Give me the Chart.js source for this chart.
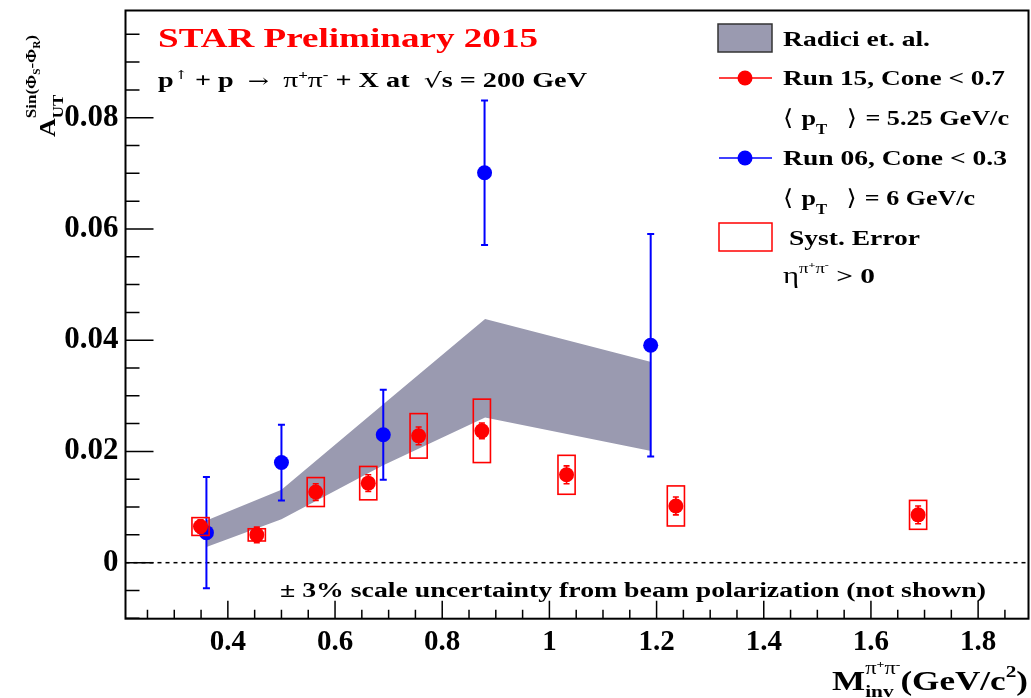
<!DOCTYPE html>
<html><head><meta charset="utf-8">
<script src="https://cdn.jsdelivr.net/npm/chart.js@4.4.0/dist/chart.umd.min.js"></script>
<style>html,body{margin:0;padding:0;background:#fff;overflow:hidden}canvas{display:block}</style>
</head><body>
<canvas id="c" width="1031" height="698"></canvas>
<script>
// ---- data ----
const run15Mass = [0.349, 0.454, 0.564, 0.662, 0.756, 0.874, 1.032, 1.236, 1.688];
const run15Asym = [0.0065, 0.0050, 0.0127, 0.0143, 0.0228, 0.0237, 0.0158, 0.0102, 0.0086];
const run15Stat = [0.0012, 0.0014, 0.0015, 0.0015, 0.0016, 0.0014, 0.0016, 0.0016, 0.0016];
const run15Syst = [0.0016, 0.0011, 0.0026, 0.0030, 0.0040, 0.0057, 0.0035, 0.0036, 0.0026];
const run15SystHalfWidth = 0.016;
const run06Mass = [0.360, 0.500, 0.690, 0.879, 1.189];
const run06Asym = [0.0054, 0.0180, 0.0230, 0.0701, 0.0391];
const run06Err  = [0.0100, 0.0068, 0.0081, 0.0130, 0.0200];
const theoryMass  = [0.36, 0.50, 0.69, 0.88, 1.19];
const theoryUpper = [0.0076, 0.0131, 0.0285, 0.0438, 0.0361];
const theoryLower = [0.0028, 0.0078, 0.0175, 0.0261, 0.0201];
const X_MIN = 0.209, X_MAX = 1.894, X_STEP = 0.2, X_MINOR = 0.05;
const Y_MIN = -0.01007, Y_MAX = 0.09927, Y_STEP = 0.02, Y_MINOR = 0.005;

const RED = '#ff0000', BLUE = '#0000ff', BAND = '#9a9ab0';
const SERIF = '"Liberation Serif", "Times New Roman", serif';
const SYM = '"Liberation Serif", "DejaVu Serif", serif';
const BRK = '"DejaVu Serif", "DejaVu Sans", serif';

function fmt(v){ const r = Math.round(v*1000)/1000; return r === 0 ? '0' : String(r); }
function fontOf(p){ return (p.w || 'bold') + ' ' + p.size + 'px ' + (p.fam || SERIF); }

// rich text: mark:true records a start, stack:true restarts at the mark, after:true starts after everything so far
function rich(ctx, x, y, parts, o){
  let cx = 0, maxEnd = 0, markPos = 0; const pos = [];
  for (const p of parts){
    ctx.font = fontOf(p); const m = ctx.measureText(p.t).width;
    const start = p.stack ? markPos : (p.after ? maxEnd : cx);
    if (p.mark) markPos = start;
    pos.push(start);
    cx = start + m + (p.gap || 0); maxEnd = Math.max(maxEnd, cx);
  }
  const sx = o.width ? o.width / maxEnd : (o.sx || 1);
  ctx.save(); ctx.translate(x, y); if (o.rot) ctx.rotate(o.rot); ctx.scale(sx, 1);
  ctx.textAlign = 'left'; ctx.textBaseline = 'alphabetic';
  parts.forEach((p, i) => { ctx.font = fontOf(p); ctx.fillStyle = p.color || o.color || '#000'; ctx.fillText(p.t, pos[i], p.dy || 0); });
  ctx.restore();
}

const decor = {
  id: 'decor',
  beforeDatasetsDraw(chart){
    const {ctx, chartArea: a, scales: {y}} = chart;
    ctx.save(); ctx.beginPath(); ctx.rect(a.left, a.top, a.right - a.left, a.bottom - a.top); ctx.clip();
    const y0 = y.getPixelForValue(0);
    ctx.strokeStyle = '#000'; ctx.lineWidth = 1.5; ctx.setLineDash([4, 4]);
    ctx.beginPath(); ctx.moveTo(a.left, y0); ctx.lineTo(a.right, y0); ctx.stroke();
    ctx.restore();
  },
  beforeDatasetDraw(chart, args){
    const {ctx, scales: {x, y}} = chart;
    if (args.index === 1){ // Run 06 error bars
      ctx.save(); ctx.strokeStyle = BLUE; ctx.lineWidth = 2;
      run06Mass.forEach((m, i) => {
        const px = x.getPixelForValue(m), top = y.getPixelForValue(run06Asym[i] + run06Err[i]), bot = y.getPixelForValue(run06Asym[i] - run06Err[i]);
        ctx.beginPath(); ctx.moveTo(px, top); ctx.lineTo(px, bot);
        ctx.moveTo(px - 3.5, top); ctx.lineTo(px + 3.5, top);
        ctx.moveTo(px - 3.5, bot); ctx.lineTo(px + 3.5, bot); ctx.stroke();
      });
      ctx.restore();
    }
    if (args.index === 0){ // Run 15 syst boxes and stat bars
      ctx.save(); ctx.strokeStyle = RED; ctx.lineWidth = 1.6;
      run15Mass.forEach((m, i) => {
        const l = x.getPixelForValue(m - run15SystHalfWidth), r = x.getPixelForValue(m + run15SystHalfWidth);
        const t = y.getPixelForValue(run15Asym[i] + run15Syst[i]), b = y.getPixelForValue(run15Asym[i] - run15Syst[i]);
        ctx.strokeRect(l, t, r - l, b - t);
        const px = x.getPixelForValue(m), st = y.getPixelForValue(run15Asym[i] + run15Stat[i]), sb = y.getPixelForValue(run15Asym[i] - run15Stat[i]);
        ctx.beginPath(); ctx.moveTo(px, st); ctx.lineTo(px, sb);
        ctx.moveTo(px - 3, st); ctx.lineTo(px + 3, st);
        ctx.moveTo(px - 3, sb); ctx.lineTo(px + 3, sb); ctx.stroke();
      });
      ctx.restore();
    }
  },
  afterDraw(chart){
    const {ctx, chartArea: a, scales: {x, y}} = chart;
    ctx.save();
    // frame
    ctx.strokeStyle = '#000'; ctx.lineWidth = 2; ctx.setLineDash([]);
    ctx.strokeRect(a.left, a.top, a.right - a.left, a.bottom - a.top);
    // ticks drawn inside the frame, on the left and bottom axes
    ctx.lineWidth = 1.5; ctx.beginPath();
    for (let i = Math.ceil(y.min / Y_MINOR - 1e-6); i * Y_MINOR <= y.max + 1e-9; i++){
      const py = y.getPixelForValue(i * Y_MINOR); const len = (i % 4 === 0) ? 28 : 14;
      ctx.moveTo(a.left, py); ctx.lineTo(a.left + len, py);
    }
    for (let i = Math.ceil(x.min / X_MINOR - 1e-6); i * X_MINOR <= x.max + 1e-9; i++){
      const px = x.getPixelForValue(i * X_MINOR); const len = (i % 4 === 0) ? 18 : 9;
      ctx.moveTo(px, a.bottom); ctx.lineTo(px, a.bottom - len);
    }
    ctx.stroke();

    // titles
    rich(ctx, 158, 46.5, [{t: 'STAR Preliminary 2015', size: 28}], {width: 380, color: RED});
    rich(ctx, 158, 87, [
      {t: 'p', size: 20}, {t: '\u2191', size: 12, dy: -8, w: 'normal', fam: BRK}, {t: ' + p  ', size: 20},
      {t: '\u2192', size: 18, w: 'normal', fam: BRK}, {t: '  ', size: 20},
      {t: '\u03c0', size: 21, w: 'normal', fam: SYM}, {t: '+', size: 12, dy: -8},
      {t: '\u03c0', size: 21, w: 'normal', fam: SYM}, {t: '-', size: 12, dy: -8},
      {t: ' + X at  ', size: 20}, {t: '\u221a', size: 20, w: 'normal', fam: BRK}, {t: 's = 200 GeV', size: 20}
    ], {width: 429});

    // legend
    ctx.fillStyle = BAND; ctx.fillRect(718, 24, 54, 28);
    ctx.strokeStyle = '#333'; ctx.lineWidth = 1.5; ctx.strokeRect(718, 24, 54, 28);
    ctx.strokeStyle = RED; ctx.lineWidth = 1.5; ctx.beginPath(); ctx.moveTo(719, 78); ctx.lineTo(772, 78); ctx.stroke();
    ctx.fillStyle = RED; ctx.beginPath(); ctx.arc(745, 78, 7.5, 0, 2 * Math.PI); ctx.fill();
    ctx.strokeStyle = BLUE; ctx.beginPath(); ctx.moveTo(719, 158); ctx.lineTo(772, 158); ctx.stroke();
    ctx.fillStyle = BLUE; ctx.beginPath(); ctx.arc(745, 158, 7.5, 0, 2 * Math.PI); ctx.fill();
    ctx.strokeStyle = RED; ctx.lineWidth = 1.5; ctx.strokeRect(719, 223, 53, 28);

    rich(ctx, 783, 46, [{t: 'Radici et. al.', size: 22}], {width: 147});
    rich(ctx, 783, 85, [{t: 'Run 15, Cone < 0.7', size: 22}], {width: 222});
    const pT = (val, yb, wd) => rich(ctx, 783, yb, [
      {t: '\u27e8 ', size: 22, w: 'normal', fam: BRK}, {t: 'p', size: 22}, {t: 'T', size: 14, dy: 9},
      {t: '   ', size: 22}, {t: '\u27e9 ', size: 22, w: 'normal', fam: BRK}, {t: '= ' + val + ' GeV/c', size: 22}
    ], {width: wd});
    pT('5.25', 125, 226);
    rich(ctx, 783, 165, [{t: 'Run 06, Cone < 0.3', size: 22}], {width: 224});
    pT('6', 205, 192);
    rich(ctx, 789, 245, [{t: 'Syst. Error', size: 22}], {width: 131});
    rich(ctx, 783, 283, [
      {t: '\u03b7', size: 23, w: 'normal', fam: SYM}, {t: '\u03c0', size: 14, dy: -10, w: 'normal', fam: SYM}, {t: '+', size: 9, dy: -15},
      {t: '\u03c0', size: 14, dy: -10, w: 'normal', fam: SYM}, {t: '-', size: 9, dy: -15}, {t: ' > 0', size: 22}
    ], {width: 92});

    rich(ctx, 280, 597, [{t: '\u00b1 3% scale uncertainty from beam polarization (not shown)', size: 20}], {width: 706});

    // axis titles
    rich(ctx, 832, 690, [
      {t: 'M', size: 28},
      {t: '\u03c0', size: 18, dy: -16, w: 'normal', fam: SYM, mark: true}, {t: '+', size: 11, dy: -22},
      {t: '\u03c0', size: 18, dy: -16, w: 'normal', fam: SYM}, {t: '-', size: 11, dy: -22},
      {t: 'inv', size: 17, dy: 7, stack: true},
      {t: '(GeV/c', size: 28, after: true}, {t: '2', size: 17, dy: -13}, {t: ')', size: 28}
    ], {width: 196});
    rich(ctx, 55, 137, [
      {t: 'A', size: 23},
      {t: 'UT', size: 15, dy: 8, mark: true},
      {t: 'Sin(', size: 15, dy: -19, stack: true}, {t: '\u03a6', size: 15, dy: -19, fam: SYM}, {t: 'S', size: 10, dy: -15},
      {t: '-', size: 15, dy: -19}, {t: '\u03a6', size: 15, dy: -19, fam: SYM}, {t: 'R', size: 10, dy: -15}, {t: ')', size: 15, dy: -19}
    ], {width: 102, rot: -Math.PI / 2});
    ctx.restore();
  }
};

function noPad(s){ s.paddingTop = 0; s.paddingBottom = 0; s.paddingLeft = 0; s.paddingRight = 0; }

new Chart(document.getElementById('c'), {
  type: 'scatter',
  data: { datasets: [
    { label: 'Run 15, Cone < 0.7', data: run15Mass.map((m, i) => ({x: m, y: run15Asym[i]})),
      backgroundColor: RED, borderColor: RED, pointRadius: 7.5, borderWidth: 0, order: 0 },
    { label: 'Run 06, Cone < 0.3', data: run06Mass.map((m, i) => ({x: m, y: run06Asym[i]})),
      backgroundColor: BLUE, borderColor: BLUE, pointRadius: 7.5, borderWidth: 0, order: 1 },
    { type: 'line', label: 'Radici et. al.', data: theoryMass.map((m, i) => ({x: m, y: theoryUpper[i]})),
      borderWidth: 0, borderColor: 'rgba(0,0,0,0)', backgroundColor: BAND, pointRadius: 0, fill: '+1', tension: 0, order: 2 },
    { type: 'line', label: 'Radici lower', data: theoryMass.map((m, i) => ({x: m, y: theoryLower[i]})),
      borderWidth: 0, borderColor: 'rgba(0,0,0,0)', pointRadius: 0, fill: false, tension: 0, order: 3 }
  ]},
  options: {
    responsive: false, animation: false, devicePixelRatio: 1,
    layout: { autoPadding: false, padding: { left: 0, top: 10.5, right: 2.5, bottom: 0 } },
    plugins: { legend: { display: false }, tooltip: { enabled: false } },
    scales: {
      x: { type: 'linear', min: X_MIN, max: X_MAX,
        afterFit(s){ s.height = 79.3; noPad(s); },
        grid: { display: false, drawTicks: false }, border: { display: false },
        ticks: { stepSize: X_STEP, includeBounds: false, padding: 6, maxRotation: 0, autoSkip: false, color: '#000',
          font: { family: SERIF, weight: 'bold', size: 29 }, callback: v => fmt(v) } },
      y: { type: 'linear', min: Y_MIN, max: Y_MAX,
        afterFit(s){ s.width = 125.5; noPad(s); },
        grid: { display: false, drawTicks: false }, border: { display: false },
        ticks: { stepSize: Y_STEP, includeBounds: false, padding: 7, color: '#000',
          font: { family: SERIF, weight: 'bold', size: 31 }, callback: v => fmt(v) } }
    }
  },
  plugins: [decor]
});
</script>
</body></html>
